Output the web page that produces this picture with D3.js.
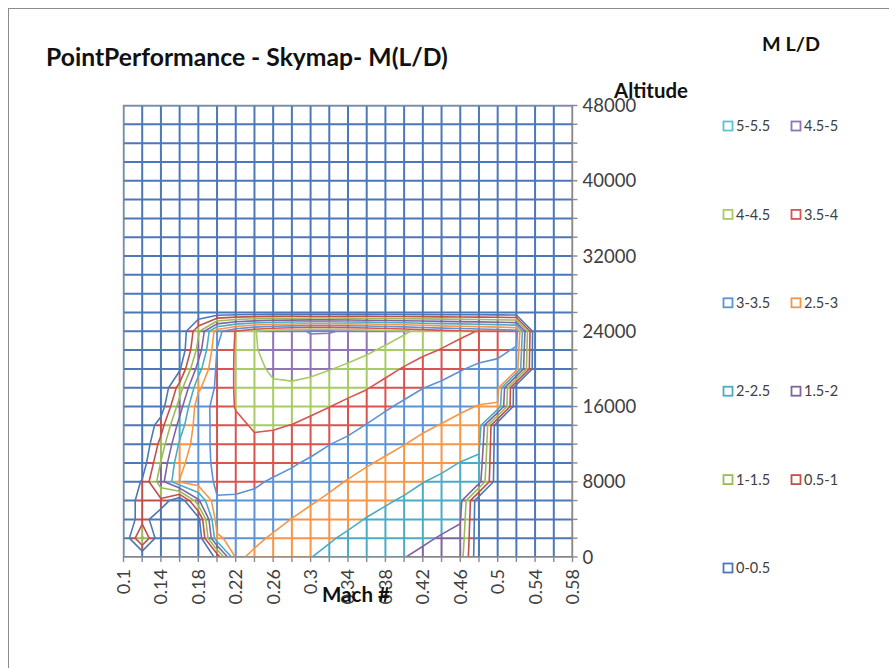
<!DOCTYPE html>
<html>
<head>
<meta charset="utf-8">
<script src="https://cdn.jsdelivr.net/npm/d3@7"></script>
<style>
  body { margin: 0; background: #ffffff; }
  svg { display: block; }
  text { font-family: Lato, "Open Sans", "Liberation Sans", sans-serif; }
</style>
</head>
<body>
<svg id="chart" width="889" height="668"></svg>
<script>
// Grid of the sky map: Mach numbers (columns) and altitudes in ft (rows)
const machValues = [0.10, 0.12, 0.14, 0.16, 0.18, 0.20, 0.22, 0.24, 0.26, 0.28, 0.30, 0.32, 0.34,
                    0.36, 0.38, 0.40, 0.42, 0.44, 0.46, 0.48, 0.50, 0.52, 0.54, 0.56, 0.58];
const altitudeValues = [0, 2000, 4000, 6000, 8000, 10000, 12000, 14000, 16000, 18000, 20000, 22000, 24000,
                        26000, 28000, 30000, 32000, 34000, 36000, 38000, 40000, 42000, 44000, 46000, 48000];

// Axis labels
const machTicks = [0.1, 0.14, 0.18, 0.22, 0.26, 0.3, 0.34, 0.38, 0.42, 0.46, 0.5, 0.54, 0.58];
const altitudeTicks = [0, 8000, 16000, 24000, 32000, 40000, 48000];

// Contour levels and the bands between them
const levels = [0.5, 1, 1.5, 2, 2.5, 3, 3.5, 4, 4.5, 5, 5.5];
const bandLabels = ["0-0.5", "0.5-1", "1-1.5", "1.5-2", "2-2.5", "2.5-3", "3-3.5", "3.5-4", "4-4.5", "4.5-5", "5-5.5"];
const bandColors = ["#4A78B9", "#C0504D", "#9BBB59", "#8064A2", "#4BACC6", "#F79646",
                    "#5B93D6", "#D9534F", "#A7CB65", "#8F74B8", "#5BC0DA"];

// M(L/D) per altitude row (0 ft first), one value per Mach column; 0 = outside the envelope
const mld = [
  [0, 0, 0, 0, 0, 0.6, 3.07, 2.93, 2.78, 2.64, 2.51, 2.4, 2.3, 2.2, 2.1, 2.01, 1.92, 1.84, 1.76, 0, 0, 0, 0, 0, 0],
  [0, 1.6, 0, 0, 0, 2.9, 3.2, 3.08, 2.95, 2.82, 2.68, 2.54, 2.43, 2.34, 2.24, 2.15, 2.06, 1.97, 1.9, 0, 0, 0, 0, 0, 0],
  [0, 0.8, 0, 0, 0.3, 3.3, 3.3, 3.2, 3.12, 2.99, 2.86, 2.73, 2.6, 2.48, 2.38, 2.3, 2.21, 2.12, 2.03, 0, 0, 0, 0, 0, 0],
  [0, 0.8, 0.9, 0, 1.9, 3.48, 3.47, 3.4, 3.29, 3.18, 3.05, 2.92, 2.79, 2.66, 2.55, 2.45, 2.36, 2.27, 2.19, 0, 0, 0, 0, 0, 0],
  [0, 0.55, 1.78, 3.02, 3.3, 3.55, 3.56, 3.56, 3.45, 3.36, 3.24, 3.11, 2.97, 2.85, 2.74, 2.63, 2.51, 2.42, 2.34, 2.22, 0, 0, 0, 0, 0],
  [0, 0.19, 1.53, 2.87, 3.3, 3.6, 3.65, 3.68, 3.66, 3.55, 3.43, 3.31, 3.18, 3.04, 2.93, 2.81, 2.7, 2.6, 2.49, 2.41, 0, 0, 0, 0, 0],
  [0, 0, 1.19, 2.58, 3.3, 3.62, 3.76, 3.92, 3.86, 3.77, 3.65, 3.51, 3.39, 3.26, 3.12, 3.01, 2.89, 2.79, 2.69, 2.6, 0, 0, 0, 0, 0],
  [0, 0, 0.76, 2.21, 3.3, 3.62, 3.9, 4.05, 4.05, 3.99, 3.88, 3.76, 3.64, 3.48, 3.33, 3.2, 3.08, 2.98, 2.88, 2.8, 0, 0, 0, 0, 0],
  [0, 0, 0.19, 1.75, 3.31, 3.62, 4.03, 4.15, 4.22, 4.2, 4.12, 4.01, 3.88, 3.75, 3.56, 3.41, 3.29, 3.19, 3.07, 2.98, 2.95, 0, 0, 0, 0],
  [0, 0, 0, 1.22, 2.89, 3.6, 4.05, 4.25, 4.41, 4.42, 4.37, 4.26, 4.15, 4.03, 3.85, 3.66, 3.51, 3.4, 3.3, 3.2, 3.17, 0, 0, 0, 0],
  [0, 0, 0, 0.41, 2.26, 3.6, 4.05, 4.35, 4.6, 4.65, 4.6, 4.52, 4.42, 4.3, 4.14, 3.96, 3.81, 3.67, 3.53, 3.41, 3.38, 3.25, 0, 0, 0],
  [0, 0, 0, 0, 1.69, 3.52, 4.05, 4.45, 4.72, 4.8, 4.82, 4.75, 4.68, 4.57, 4.43, 4.26, 4.1, 3.98, 3.85, 3.7, 3.6, 3.45, 0, 0, 0],
  [0, 0, 0, 0, 1.39, 3.3, 4.03, 4.47, 4.78, 4.9, 5.03, 5.03, 4.95, 4.85, 4.7, 4.56, 4.38, 4.2, 4.1, 3.98, 3.85, 3.7, 0, 0, 0],
  [0, 0, 0, 0, 0, 0, 0, 0, 0, 0, 0, 0, 0, 0, 0, 0, 0, 0, 0, 0, 0, 0, 0, 0, 0],
  [0, 0, 0, 0, 0, 0, 0, 0, 0, 0, 0, 0, 0, 0, 0, 0, 0, 0, 0, 0, 0, 0, 0, 0, 0],
  [0, 0, 0, 0, 0, 0, 0, 0, 0, 0, 0, 0, 0, 0, 0, 0, 0, 0, 0, 0, 0, 0, 0, 0, 0],
  [0, 0, 0, 0, 0, 0, 0, 0, 0, 0, 0, 0, 0, 0, 0, 0, 0, 0, 0, 0, 0, 0, 0, 0, 0],
  [0, 0, 0, 0, 0, 0, 0, 0, 0, 0, 0, 0, 0, 0, 0, 0, 0, 0, 0, 0, 0, 0, 0, 0, 0],
  [0, 0, 0, 0, 0, 0, 0, 0, 0, 0, 0, 0, 0, 0, 0, 0, 0, 0, 0, 0, 0, 0, 0, 0, 0],
  [0, 0, 0, 0, 0, 0, 0, 0, 0, 0, 0, 0, 0, 0, 0, 0, 0, 0, 0, 0, 0, 0, 0, 0, 0],
  [0, 0, 0, 0, 0, 0, 0, 0, 0, 0, 0, 0, 0, 0, 0, 0, 0, 0, 0, 0, 0, 0, 0, 0, 0],
  [0, 0, 0, 0, 0, 0, 0, 0, 0, 0, 0, 0, 0, 0, 0, 0, 0, 0, 0, 0, 0, 0, 0, 0, 0],
  [0, 0, 0, 0, 0, 0, 0, 0, 0, 0, 0, 0, 0, 0, 0, 0, 0, 0, 0, 0, 0, 0, 0, 0, 0],
  [0, 0, 0, 0, 0, 0, 0, 0, 0, 0, 0, 0, 0, 0, 0, 0, 0, 0, 0, 0, 0, 0, 0, 0, 0],
  [0, 0, 0, 0, 0, 0, 0, 0, 0, 0, 0, 0, 0, 0, 0, 0, 0, 0, 0, 0, 0, 0, 0, 0, 0]
];

const svg = d3.select("#chart");
const axisGrey = "#8a8a8a";
const textGrey = "#404040";

const x = d3.scaleLinear().domain([machValues[0], machValues[machValues.length - 1]]).range([123.5, 572.5]);
const y = d3.scaleLinear().domain([altitudeValues[0], altitudeValues[altitudeValues.length - 1]]).range([557, 105.5]);

// chart area frame
svg.append("rect")
  .attr("x", 8.5).attr("y", 8.5).attr("width", 900).attr("height", 700)
  .attr("fill", "#ffffff").attr("stroke", "#8c8c8c").attr("stroke-width", 1);

const clip = svg.append("defs").append("clipPath").attr("id", "plotClip");
clip.append("rect")
  .attr("x", x.range()[0]).attr("y", y.range()[1])
  .attr("width", x.range()[1] - x.range()[0]).attr("height", y.range()[0] - y.range()[1]);

const plot = svg.append("g").attr("clip-path", "url(#plotClip)");

const bandOf = v => Math.min(levels.length - 1, d3.bisectRight(levels, v));

// wireframe: every grid segment split where it crosses a level, each piece in its band colour
const pieces = bandColors.map(() => []);
function addSegment(m0, a0, v0, m1, a1, v1) {
  const lo = Math.min(v0, v1), hi = Math.max(v0, v1);
  const ts = [0, 1];
  levels.forEach(L => { if (L > lo && L < hi) ts.push((L - v0) / (v1 - v0)); });
  ts.sort((p, q) => p - q);
  for (let k = 0; k < ts.length - 1; k++) {
    const t0 = ts[k], t1 = ts[k + 1];
    if (t1 - t0 < 1e-9) continue;
    const vm = v0 + (v1 - v0) * (t0 + t1) / 2;
    pieces[bandOf(vm)].push([
      [x(m0 + (m1 - m0) * t0), y(a0 + (a1 - a0) * t0)],
      [x(m0 + (m1 - m0) * t1), y(a0 + (a1 - a0) * t1)]
    ]);
  }
}
altitudeValues.forEach((alt, j) => {
  machValues.forEach((m, i) => {
    if (i < machValues.length - 1)
      addSegment(m, alt, mld[j][i], machValues[i + 1], alt, mld[j][i + 1]);
    if (j < altitudeValues.length - 1)
      addSegment(m, alt, mld[j][i], m, altitudeValues[j + 1], mld[j + 1][i]);
  });
});
plot.append("g").selectAll("path")
  .data(pieces)
  .join("path")
  .attr("d", segs => segs.map(s => `M${s[0][0]},${s[0][1]}L${s[1][0]},${s[1][1]}`).join(""))
  .attr("fill", "none")
  .attr("stroke", (d, k) => bandColors[k])
  .attr("stroke-width", 2)
  .attr("stroke-linecap", "butt");

// contour lines, each level drawn in the colour of the band just below it
const colToMach = d3.scaleLinear().domain([0, machValues.length - 1]).range([machValues[0], machValues[machValues.length - 1]]);
const rowToAlt = d3.scaleLinear().domain([0, altitudeValues.length - 1]).range([altitudeValues[0], altitudeValues[altitudeValues.length - 1]]);
const gridProjection = d3.geoTransform({
  point(px, py) { this.stream.point(x(colToMach(px - 0.5)), y(rowToAlt(py - 0.5))); }
});
const contourPath = d3.geoPath(gridProjection);
const contourSet = d3.contours()
  .size([machValues.length, altitudeValues.length])
  .thresholds(levels)(mld.flat());
plot.append("g").selectAll("path")
  .data(contourSet)
  .join("path")
  .attr("d", contourPath)
  .attr("fill", "none")
  .attr("stroke", (d, k) => bandColors[k])
  .attr("stroke-width", 1.6)
  .attr("stroke-linejoin", "round");

// plot edges and axes
const axes = svg.append("g").attr("stroke", axisGrey).attr("stroke-width", 1.4).attr("fill", "none");
axes.append("path").attr("d",
  `M${x.range()[0]},${y.range()[0]}V${y.range()[1]}H${x.range()[1]}V${y.range()[0]}Z`);
axes.append("g").selectAll("line").data(machValues).join("line")
  .attr("x1", d => x(d)).attr("x2", d => x(d))
  .attr("y1", y.range()[0]).attr("y2", y.range()[0] + 5);
axes.append("g").selectAll("line").data(altitudeValues).join("line")
  .attr("x1", x.range()[1]).attr("x2", x.range()[1] + 5)
  .attr("y1", d => y(d)).attr("y2", d => y(d));

// tick labels
svg.append("g").selectAll("text").data(machTicks).join("text")
  .attr("transform", d => `translate(${x(d)},${y.range()[0] + 12}) rotate(-90)`)
  .attr("text-anchor", "end")
  .attr("dy", "0.36em")
  .attr("font-size", 18)
  .attr("fill", textGrey)
  .text(d => String(d));
svg.append("g").selectAll("text").data(altitudeTicks).join("text")
  .attr("x", x.range()[1] + 10)
  .attr("y", d => y(d))
  .attr("dy", "0.36em")
  .attr("font-size", 18.5)
  .attr("fill", textGrey)
  .text(d => String(d));

function fitWidth(sel, width) {
  const w = sel.node().getComputedTextLength();
  const fs = parseFloat(sel.attr("font-size"));
  sel.attr("font-size", fs * width / w);
}

// titles
const title = svg.append("text")
  .attr("x", 46).attr("y", 66)
  .attr("font-size", 21).attr("font-weight", "bold").attr("fill", "#111")
  .text("PointPerformance - Skymap- M(L/D)");
fitWidth(title, 402);

const altTitle = svg.append("text")
  .attr("x", 614).attr("y", 98)
  .attr("font-size", 16).attr("font-weight", "bold").attr("fill", "#111")
  .text("Altitude");
fitWidth(altTitle, 74);

const machTitle = svg.append("text")
  .attr("x", 322).attr("y", 602)
  .attr("font-size", 16).attr("font-weight", "bold").attr("fill", "#111")
  .text("Mach #");
fitWidth(machTitle, 68);

const legendTitle = svg.append("text")
  .attr("x", 762).attr("y", 51)
  .attr("font-size", 16).attr("font-weight", "bold").attr("fill", "#111")
  .text("M L/D");
fitWidth(legendTitle, 58);

// legend: highest band first, two entries per row
const legendOrder = d3.range(bandLabels.length - 1, -1, -1);
const legend = svg.append("g");
legendOrder.forEach((b, n) => {
  const row = Math.floor(n / 2), col = n % 2;
  const cx = 723 + col * 68;
  const cy = 126 + row * 88.4;
  legend.append("rect")
    .attr("x", cx + 0.5).attr("y", cy - 4.5).attr("width", 9).attr("height", 9)
    .attr("fill", "#ffffff").attr("stroke", bandColors[b]).attr("stroke-width", 1.8);
  legend.append("text")
    .attr("x", cx + 13).attr("y", cy).attr("dy", "0.36em")
    .attr("font-size", 14.5).attr("fill", textGrey)
    .text(bandLabels[b]);
});
</script>
</body>
</html>
